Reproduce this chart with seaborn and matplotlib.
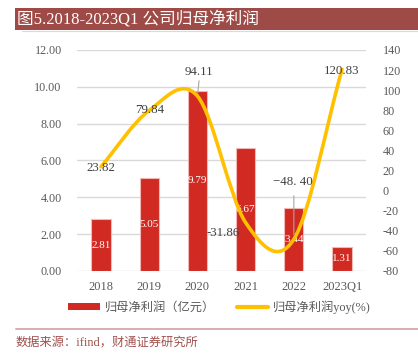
import numpy as np
import pandas as pd
import matplotlib
matplotlib.use("Agg")
import matplotlib.pyplot as plt
import seaborn as sns
from matplotlib.path import Path
from matplotlib.patches import PathPatch, Patch, Rectangle
from matplotlib.lines import Line2D

# data
years = ["2018", "2019", "2020", "2021", "2022", "2023Q1"]
profit = [2.81, 5.05, 9.79, 6.67, 3.44, 1.31]          # 归母净利润（亿元）
yoy = [23.82, 79.84, 94.11, -31.86, -48.40, 120.83]    # 归母净利润yoy(%)
yoy_labels = ["23.82", "79.84", "94.11", "-31.86", "\u221248. 40", "120.83"]

RED = "#D12A22"
GOLD = "#FFC000"
GRAY = "#595959"

sns.set_theme(style="white")
plt.rcParams["font.family"] = ["Liberation Serif", "Noto Sans CJK SC"]
plt.rcParams["axes.unicode_minus"] = False

fig = plt.figure(figsize=(4.18, 3.57), dpi=100)
ax = fig.add_axes([0.184, 0.241, 0.692, 0.619])

df = pd.DataFrame({"year": years, "profit": profit})
sns.barplot(data=df, x="year", y="profit", color=RED, width=0.4,
            edgecolor="#F2B8B5", linewidth=0.8, saturation=1, ax=ax)
ax.set_ylim(0, 12)
ax.set_yticks(np.arange(0, 12.01, 2))
ax.set_yticklabels([f"{v:.2f}" for v in np.arange(0, 12.01, 2)])
ax.set_xlim(-0.5, 5.5)
ax.set_xlabel("")
ax.set_ylabel("")
ax.grid(axis="y", color="#D9D9D9", linewidth=1)
ax.set_axisbelow(True)
for s in ax.spines.values():
    s.set_visible(False)
ax.tick_params(axis="y", length=0, pad=11, labelsize=8.7, labelcolor=GRAY)
ax.tick_params(axis="x", length=0, pad=7, labelsize=9, labelcolor=GRAY)

for i, v in enumerate(profit):
    ax.text(i, v / 2, f"{v:.2f}", ha="center", va="center", color="white", fontsize=8)

ax2 = ax.twinx()
ax2.set_ylim(-80, 140)
ax2.set_yticks(np.arange(-80, 141, 20))
for s in ax2.spines.values():
    s.set_visible(False)
ax2.tick_params(axis="y", length=0, pad=12, labelsize=8.7, labelcolor=GRAY)
ax2.grid(False)

# smooth line through the points (Excel-style smoothed line)
x = np.arange(len(yoy))
y = np.array(yoy)
m = np.gradient(y)
verts = [(x[0], y[0])]
codes = [Path.MOVETO]
for i in range(len(x) - 1):
    verts += [(x[i] + 1 / 3, y[i] + m[i] / 3),
              (x[i + 1] - 1 / 3, y[i + 1] - m[i + 1] / 3),
              (x[i + 1], y[i + 1])]
    codes += [Path.CURVE4] * 3
ax2.add_patch(PathPatch(Path(verts, codes), facecolor="none", edgecolor=GOLD,
                        linewidth=2.6, capstyle="round", zorder=3))

offsets = [(0, -1), (0, 0), (2, 24), (-23, -10), (-1, 57), (0, -2)]
for i, (lab, off) in enumerate(zip(yoy_labels, offsets)):
    ax2.annotate(lab, (i, yoy[i]), xytext=off, textcoords="offset pixels",
                 ha="center", va="center", fontsize=9.3, color="#404040", zorder=5)
# leader lines
ax2.annotate("", (2, yoy[2]), xytext=(2.04, yoy[2] + 18), zorder=4,
             arrowprops=dict(arrowstyle="-", color="#A6A6A6", lw=0.8))
ax2.annotate("", (4, yoy[4] + 2), xytext=(4, yoy[4] + 46), zorder=4,
             arrowprops=dict(arrowstyle="-", color="#A6A6A6", lw=0.8))

# legend
handles = [Patch(facecolor=RED, edgecolor="none"),
           Line2D([0], [0], color=GOLD, lw=3)]
fig.legend(handles, ["归母净利润（亿元）", "归母净利润yoy(%)"], loc="center",
           bbox_to_anchor=(0.525, 0.14), ncol=2, frameon=False, fontsize=8.8,
           handlelength=2.6, handleheight=0.5, columnspacing=1.8, handletextpad=0.4,
           labelcolor=GRAY)

# title banner
fig.patches.append(Rectangle((15 / 418, 1 - 30 / 357), 1 - 15 / 418, 22 / 357,
                             transform=fig.transFigure, facecolor="#9E4A47",
                             edgecolor="none"))
fig.text(17 / 418, 1 - 19 / 357, "图5.2018-2023Q1 公司归母净利润", color="white",
         fontsize=12, ha="left", va="center")
fig.add_artist(Line2D([22 / 418, 1], [1 - 31 / 357] * 2, color="#EAD3D2", lw=0.8))

# footer
fig.add_artist(Line2D([16 / 418, 1], [1 - 329 / 357] * 2, color="#D6AEAD", lw=1.4))
fig.text(16 / 418, 1 - 343 / 357, "数据来源：ifind，财通证券研究所", color="#A0504D",
         fontsize=8.8, ha="left", va="center")

fig.savefig("out.png", dpi=100)
